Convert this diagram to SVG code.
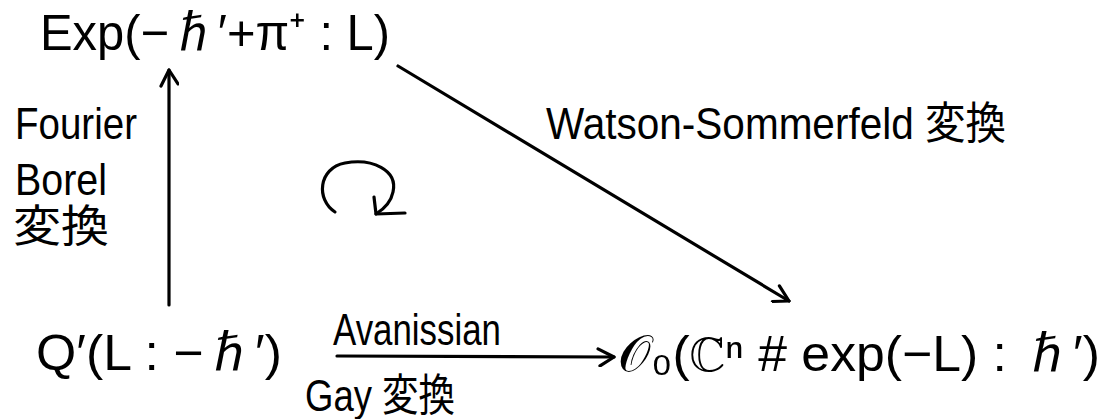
<svg xmlns="http://www.w3.org/2000/svg" width="1112" height="419" viewBox="0 0 1112 419">
<defs>
<style>
.t{font-family:"Liberation Sans","Noto Sans CJK JP",sans-serif;fill:#000;}
.big{font-size:50px;}
.mid{font-size:44px;}
.ws{font-size:44px;}
.ln{stroke:#000;stroke-width:3.2;fill:none;stroke-linecap:round;stroke-linejoin:round;}
</style>
<marker id="ah" viewBox="0 0 20 20" refX="18" refY="10" markerWidth="20" markerHeight="20" markerUnits="userSpaceOnUse" orient="auto">
<path d="M2,2 L18,10 L4,19" fill="none" stroke="#000" stroke-width="3.2" stroke-linecap="round" stroke-linejoin="round"/>
</marker>
</defs>
<rect width="1112" height="419" fill="#fff"/>
<g id="connectors">
<line class="ln" x1="169" y1="305" x2="169" y2="70" marker-end="url(#ah)"/>
<line class="ln" x1="398" y1="66" x2="789" y2="301" marker-end="url(#ah)"/>
<line class="ln" x1="337" y1="356" x2="614" y2="357" marker-end="url(#ah)"/>
<path class="ln" d="M335,212 C316,200 318,168 345,163 C372,158 398,170 393,192 C391,202 384,209 376,214"/>
<path class="ln" d="M374,197 L376,214 L405,213"/>
</g>
<g id="node-exp">
<text class="t big" x="40" y="50" textLength="350" lengthAdjust="spacingAndGlyphs">Exp(−ℏ′+π⁺ : L)</text>
</g>
<g id="label-fourier">
<text class="t mid" x="15" y="139" textLength="122" lengthAdjust="spacingAndGlyphs">Fourier</text>
<text class="t mid" x="15" y="195" textLength="92" lengthAdjust="spacingAndGlyphs">Borel</text>
<text class="t mid" x="13" y="242" textLength="96" lengthAdjust="spacingAndGlyphs">変換</text>
</g>
<g id="label-watson">
<text class="t ws" x="546" y="139" textLength="460" lengthAdjust="spacingAndGlyphs">Watson-Sommerfeld 変換</text>
</g>
<g id="node-q">
<text class="t big" x="36" y="370" textLength="246" lengthAdjust="spacingAndGlyphs">Q′(L : −ℏ′)</text>
</g>
<g id="label-avanissian">
<text class="t mid" x="333" y="345" textLength="168" lengthAdjust="spacingAndGlyphs">Avanissian</text>
<text class="t mid" x="305" y="411" textLength="150" lengthAdjust="spacingAndGlyphs">Gay 変換</text>
</g>
<g id="node-o">
<text class="t big" x="618" y="371" textLength="482" lengthAdjust="spacingAndGlyphs">𝒪₀(ℂⁿ # exp(−L) : ℏ′)</text>
</g>
</svg>
